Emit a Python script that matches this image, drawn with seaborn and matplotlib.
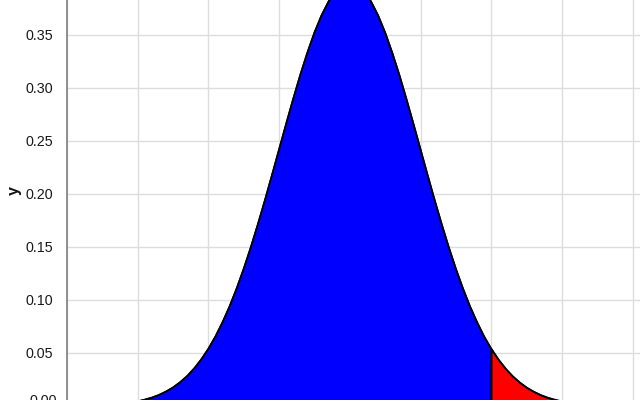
import matplotlib
matplotlib.use("Agg")
import matplotlib.pyplot as plt
import seaborn as sns
import pandas as pd
import numpy as np

# Values (standard normal density curve)
x_vals = [-4.0, -3.9, -3.8, -3.7, -3.6, -3.5, -3.4, -3.3, -3.2, -3.1,
          -3.0, -2.9, -2.8, -2.7, -2.6, -2.5, -2.4, -2.3, -2.2, -2.1,
          -2.0, -1.9, -1.8, -1.7, -1.6, -1.5, -1.4, -1.3, -1.2, -1.1,
          -1.0, -0.9, -0.8, -0.7, -0.6, -0.5, -0.4, -0.3, -0.2, -0.1,
          0.0, 0.1, 0.2, 0.3, 0.4, 0.5, 0.6, 0.7, 0.8, 0.9,
          1.0, 1.1, 1.2, 1.3, 1.4, 1.5, 1.6, 1.7, 1.8, 1.9,
          2.0, 2.1, 2.2, 2.3, 2.4, 2.5, 2.6, 2.7, 2.8, 2.9,
          3.0, 3.1, 3.2, 3.3, 3.4, 3.5, 3.6, 3.7, 3.8, 3.9, 4.0]
y_vals = [0.0001, 0.0002, 0.0003, 0.0004, 0.0006, 0.0009, 0.0012, 0.0017, 0.0024, 0.0033,
          0.0044, 0.0060, 0.0079, 0.0104, 0.0136, 0.0175, 0.0224, 0.0283, 0.0355, 0.0440,
          0.0540, 0.0656, 0.0790, 0.0940, 0.1109, 0.1295, 0.1497, 0.1714, 0.1942, 0.2179,
          0.2420, 0.2661, 0.2897, 0.3123, 0.3332, 0.3521, 0.3683, 0.3814, 0.3910, 0.3970,
          0.3989, 0.3970, 0.3910, 0.3814, 0.3683, 0.3521, 0.3332, 0.3123, 0.2897, 0.2661,
          0.2420, 0.2179, 0.1942, 0.1714, 0.1497, 0.1295, 0.1109, 0.0940, 0.0790, 0.0656,
          0.0540, 0.0440, 0.0355, 0.0283, 0.0224, 0.0175, 0.0136, 0.0104, 0.0079, 0.0060,
          0.0044, 0.0033, 0.0024, 0.0017, 0.0012, 0.0009, 0.0006, 0.0004, 0.0003, 0.0002, 0.0001]
cutoff = 2.0
y_ticks = [0.00, 0.05, 0.10, 0.15, 0.20, 0.25, 0.30, 0.35]
x_grid = [-4, -3, -2, -1, 0, 1, 2, 3, 4]

df = pd.DataFrame({"x": x_vals, "y": y_vals})
body = df[df["x"] <= cutoff]
tail = df[df["x"] >= cutoff]

sns.set_style("white")
plt.rcParams["font.family"] = ["Liberation Sans", "DejaVu Sans"]

W, H = 640, 400
fig = plt.figure(figsize=(6.4, 4.0), dpi=100)
left_px = 67
zero_px = 406.0      # pixel row (from top) of y = 0
unit_px = 70.7       # pixels per x unit
ymax = 0.35 + 35 / 53.4 * 0.05
ax = fig.add_axes([left_px / W, 1 - zero_px / H, (W - left_px) / W, zero_px / H])
ax.set_xlim(-4, -4 + (W - left_px) / unit_px)
ax.set_ylim(0, ymax)

# areas
ax.fill_between(body["x"], 0, body["y"], facecolor="#0000ff", edgecolor="black",
                linewidth=1.2, zorder=3)
ax.fill_between(tail["x"], 0, tail["y"], facecolor="#ff0000", edgecolor="black",
                linewidth=1.2, zorder=3)
sns.lineplot(data=df, x="x", y="y", ax=ax, color="black", linewidth=1.2, zorder=4)

# grid
ax.set_xticks(x_grid)
ax.set_yticks(y_ticks)
ax.grid(True, color="#dddddd", linewidth=1.0, zorder=0)
ax.set_axisbelow(True)
ax.tick_params(axis="x", length=0, labelbottom=False)
ax.tick_params(axis="y", length=8, width=1.0, color="#888888", pad=2,
               labelsize=10.3, labelcolor="#1a1a1a")
ax.set_yticklabels([""] + [f"{v:.2f}" for v in y_ticks[1:]])
ax.annotate("0.00", xy=(0, 0), xycoords=("axes fraction", "data"),
            xytext=(-10, 5), textcoords="offset pixels", ha="right", va="center",
            fontsize=10.3, color="#1a1a1a", annotation_clip=False)

for s in ["top", "right", "bottom"]:
    ax.spines[s].set_visible(False)
ax.spines["left"].set_color("#888888")
ax.spines["left"].set_linewidth(1.3)
ax.spines["left"].set_zorder(5)

ax.set_xlabel("")
ax.set_ylabel("y", fontsize=11.5, fontweight="bold", color="#111111")
ax.yaxis.set_label_coords((22 - left_px) / (W - left_px), (zero_px - 191) / zero_px)

fig.savefig("out.png", dpi=100)
